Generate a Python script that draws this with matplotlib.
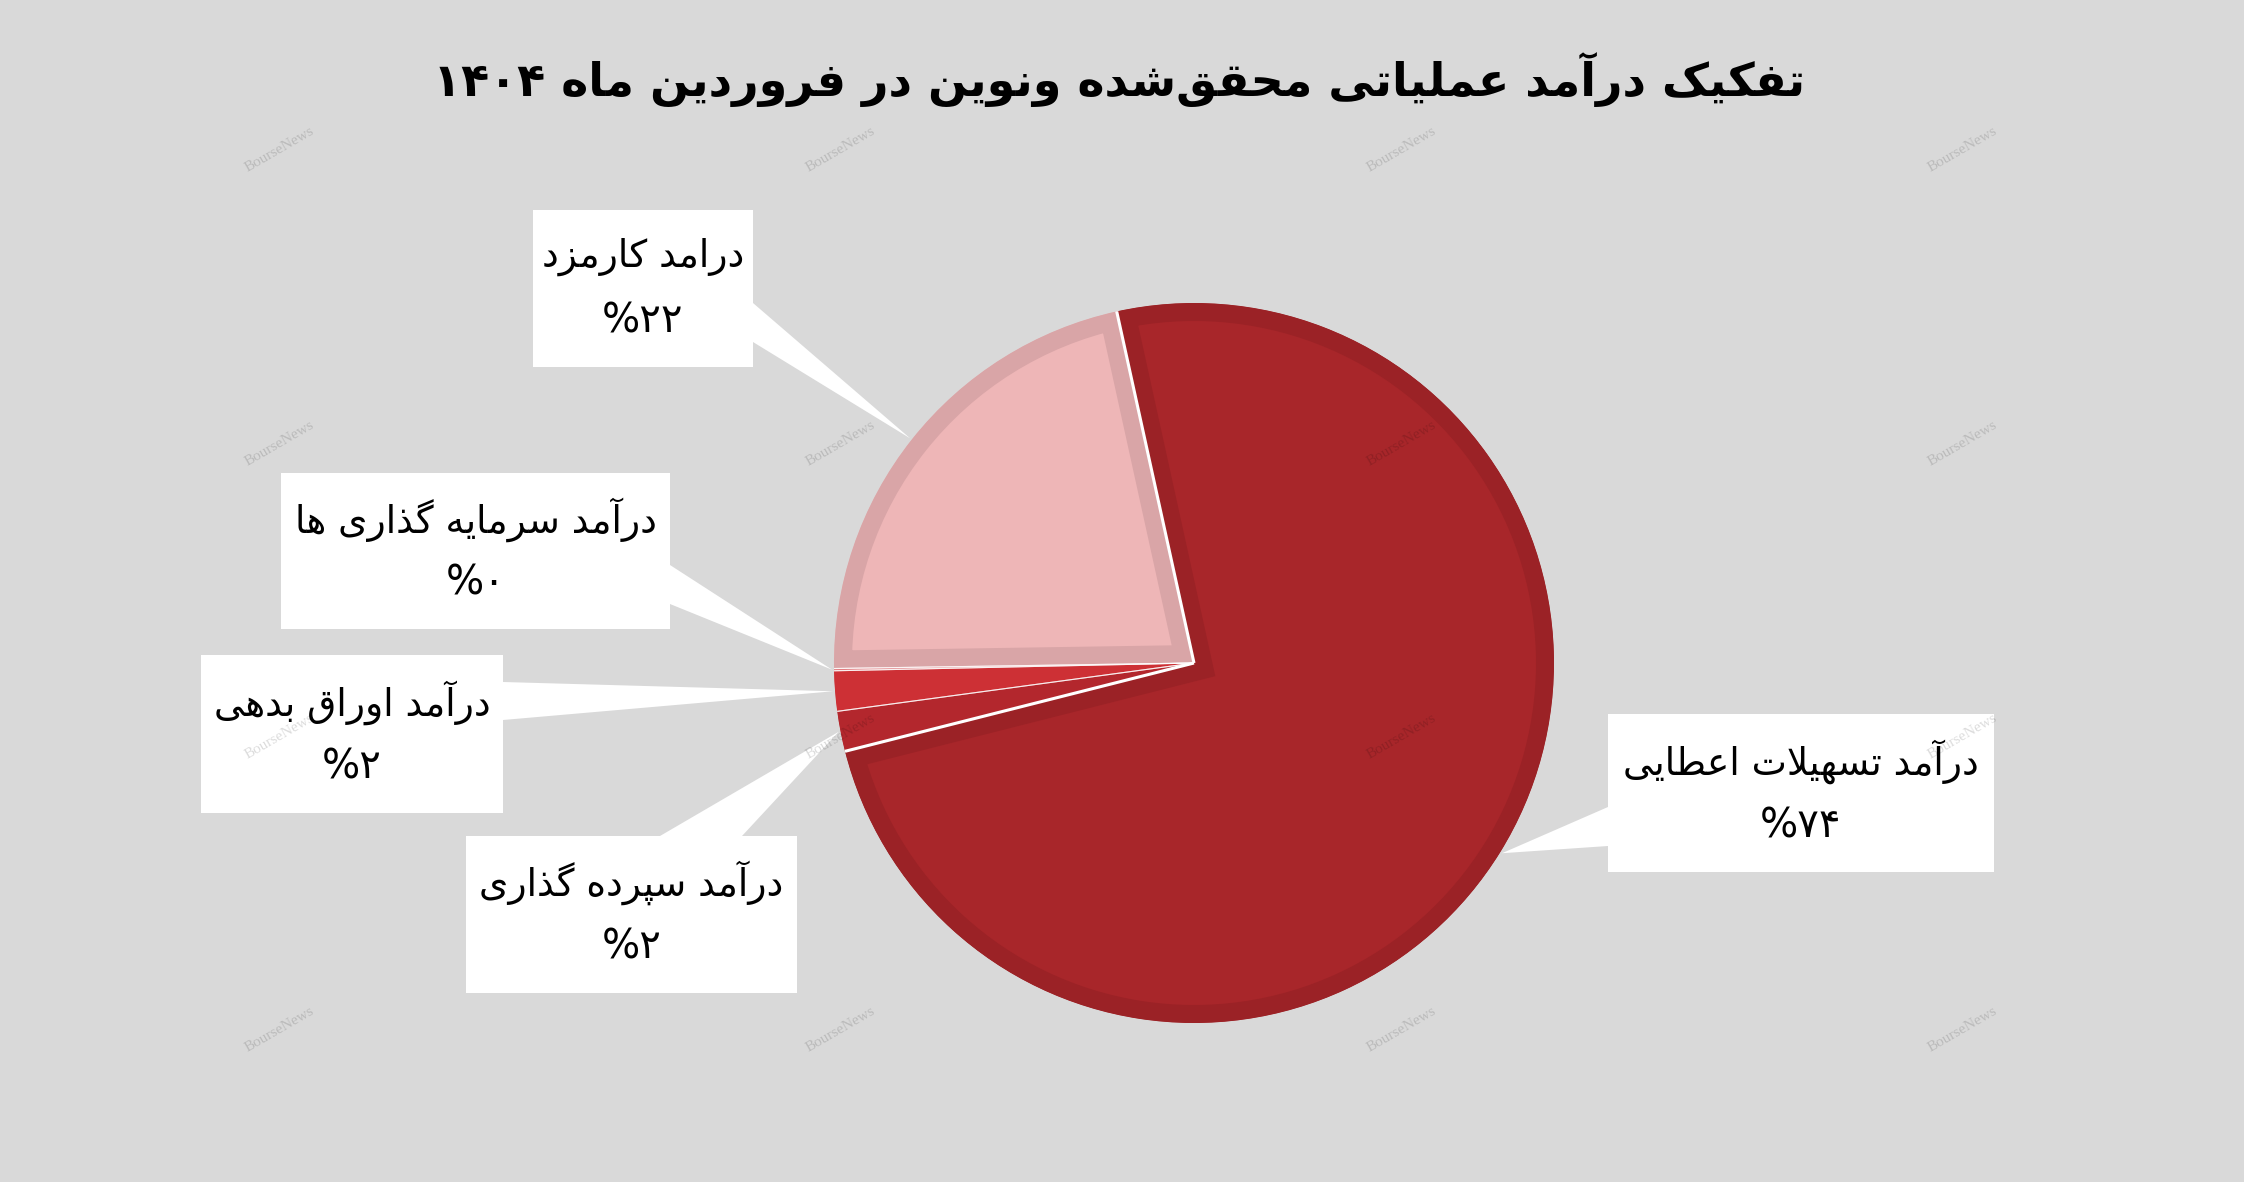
import re
import matplotlib
matplotlib.use("Agg")
import matplotlib.pyplot as plt
from matplotlib.patches import Rectangle, Polygon
import numpy as np

W, H = 2244, 1182

# ---- data -------------------------------------------------------------
title = "تفکیک درآمد عملیاتی محقق\u200cشده ونوین در فروردین ماه ۱۴۰۴"
labels = ["درامد کارمزد", "درآمد سرمایه گذاری ها", "درآمد اوراق بدهی",
          "درآمد سپرده گذاری", "درآمد تسهیلات اعطایی"]
shares = [21.8, 0.1, 1.8, 1.8, 74.5]
share_text = ["۲۲%", "۰%", "۲%", "۲%", "۷۴%"]
fills = ["#eeb6b7", "#e27f83", "#cd3035", "#b3272d", "#a8262a"]
borders = ["#d9a5a7", "#e27f83", "#cd3035", "#b3272d", "#9b2226"]

# label boxes in pixels from top-left: (left, top, width, height) and callout base
boxes = [(533, 210, 220, 157), (281, 473, 389, 156), (201, 655, 302, 158),
         (466, 836, 331, 157), (1608, 714, 386, 158)]
bases = [((753, 303), (753, 342)), ((670, 565), (670, 604)), ((503, 682), (503, 720)),
         ((660, 836), (742, 836)), ((1608, 807), (1608, 846))]

# ---- minimal arabic / persian shaping ---------------------------------
DUAL = {'\u0628': 0xFE8F, '\u062A': 0xFE95, '\u062B': 0xFE99, '\u062C': 0xFE9D,
        '\u062D': 0xFEA1, '\u062E': 0xFEA5, '\u0633': 0xFEB1, '\u0634': 0xFEB5,
        '\u0635': 0xFEB9, '\u0636': 0xFEBD, '\u0637': 0xFEC1, '\u0638': 0xFEC5,
        '\u0639': 0xFEC9, '\u063A': 0xFECD, '\u0641': 0xFED1, '\u0642': 0xFED5,
        '\u0644': 0xFEDD, '\u0645': 0xFEE1, '\u0646': 0xFEE5, '\u0647': 0xFEE9,
        '\u064A': 0xFEF1, '\u067E': 0xFB56, '\u0686': 0xFB7A, '\u06A9': 0xFB8E,
        '\u06AF': 0xFB92, '\u06CC': 0xFBFC}
RIGHT = {'\u0622': 0xFE81, '\u0627': 0xFE8D, '\u062F': 0xFEA9, '\u0630': 0xFEAB,
         '\u0631': 0xFEAD, '\u0632': 0xFEAF, '\u0648': 0xFEED, '\u0698': 0xFB8A}


def shape(s):
    out = []
    i = 0
    while i < len(s):
        c = s[i]
        prev = s[i - 1] if i > 0 else ''
        nxt = s[i + 1] if i + 1 < len(s) else ''
        jp = prev in DUAL
        if c == '\u0644' and nxt in ('\u0627', '\u0622'):
            base = 0xFEFB if nxt == '\u0627' else 0xFEF5
            out.append(chr(base + (1 if jp else 0)))
            i += 2
            continue
        if c in DUAL:
            jn = nxt in DUAL or nxt in RIGHT
            k = (3 if jn else 1) if jp else (2 if jn else 0)
            out.append(chr(DUAL[c] + k))
        elif c in RIGHT:
            out.append(chr(RIGHT[c] + (1 if jp else 0)))
        elif c != '\u200c':
            out.append(c)
        i += 1
    return ''.join(out)


def rtl(s):
    v = shape(s)[::-1]
    return re.sub(r'[0-9\u06f0-\u06f9]+', lambda m: m.group(0)[::-1], v)


def up(y):
    return H - y


# ---- figure -----------------------------------------------------------
fig = plt.figure(figsize=(W / 100, H / 100), dpi=100, facecolor="#d9d9d9")
ax = fig.add_axes([0, 0, 1, 1])
ax.set_facecolor("#d9d9d9")

cx, cy, R = 1194, up(663), 360
wedges, _ = ax.pie(shares, startangle=102.4, counterclock=True, center=(cx, cy),
                   radius=R, frame=True, colors=fills,
                   wedgeprops=dict(linewidth=0))
ax.set_xlim(0, W)
ax.set_ylim(0, H)
ax.axis("off")

# inner border: stroke twice as wide, clipped to the slice itself
border_px = 18
for w, b in zip(wedges, borders):
    w.set_zorder(3)
    w.set_edgecolor(b)
    w.set_linewidth(2 * border_px * 0.72)
    w.set_joinstyle("miter")
    w.set_clip_path(w)
    w.set_clip_on(True)

# white separators along the slice edges
for k, w in enumerate(wedges):
    big = k == len(wedges) - 1
    for t in (w.theta1, w.theta2):
        r = np.deg2rad(t)
        ax.plot([cx, cx + R * np.cos(r)], [cy, cy + R * np.sin(r)],
                color="white", lw=2.2 if big else 0.8, alpha=1 if big else 0.7,
                zorder=4 + big, solid_capstyle="butt")

# label boxes with callouts
for w, lab, pct, (x0, y0, bw, bh), (p1, p2) in zip(wedges, labels, share_text, boxes, bases):
    mid = np.deg2rad((w.theta1 + w.theta2) / 2)
    apex = (cx + (R + 2) * np.cos(mid), cy + (R + 2) * np.sin(mid))
    ax.add_patch(Polygon([(p1[0], up(p1[1])), (p2[0], up(p2[1])), apex],
                         closed=True, facecolor="white", edgecolor="none", zorder=2))
    ax.add_patch(Rectangle((x0, up(y0 + bh)), bw, bh, facecolor="white",
                           edgecolor="none", zorder=2))
    ax.text(x0 + bw / 2, up(y0 + 0.30 * bh), rtl(lab), fontsize=27,
            family="DejaVu Sans", ha="center", va="center", zorder=6)
    ax.text(x0 + bw / 2, up(y0 + 0.71 * bh), rtl(pct), fontsize=29,
            family="DejaVu Sans", ha="center", va="center", zorder=6)

ax.text(1119, up(80), rtl(title), fontsize=33, fontweight="bold",
        family="DejaVu Sans", ha="center", va="center", zorder=6)

# watermark
for wx in (279, 840, 1401, 1962):
    for wy in (150, 444, 737, 1030):
        ax.text(wx, up(wy), "BourseNews", fontsize=11, family="Liberation Serif",
                color="black", alpha=0.14, rotation=30, ha="center", va="center",
                zorder=10)

fig.savefig("out.png", dpi=100, facecolor=fig.get_facecolor())
